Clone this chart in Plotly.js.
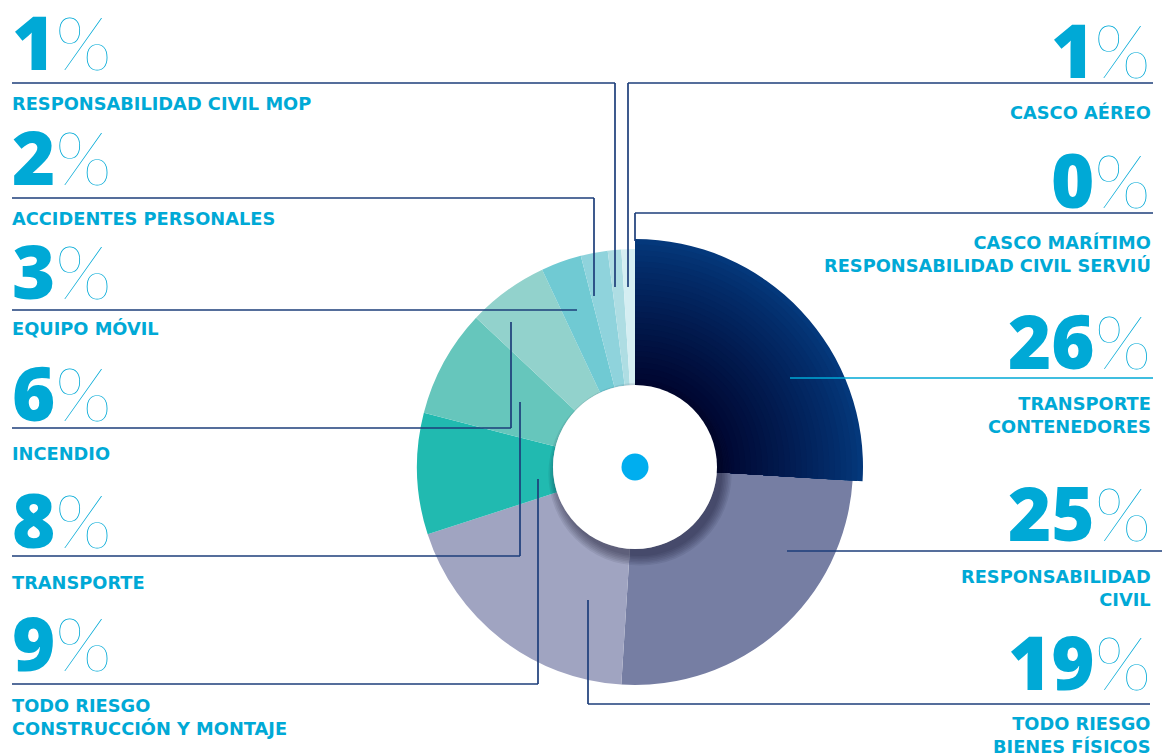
<!DOCTYPE html>
<html>
<head>
<meta charset="utf-8">
<script src="https://cdn.plot.ly/plotly-3.0.1.min.js"></script>
<style>
html,body{margin:0;padding:0;background:#fff;}
#chart{width:1162px;height:756px;}
</style>
</head>
<body>
<div id="chart"></div>
<script>
// ---------- DATA ----------
const categories = [
  'TRANSPORTE<br>CONTENEDORES',
  'RESPONSABILIDAD<br>CIVIL',
  'TODO RIESGO<br>BIENES FÍSICOS',
  'TODO RIESGO<br>CONSTRUCCIÓN Y MONTAJE',
  'TRANSPORTE',
  'INCENDIO',
  'EQUIPO MÓVIL',
  'ACCIDENTES PERSONALES',
  'RESPONSABILIDAD CIVIL MOP',
  'CASCO AÉREO',
  'CASCO MARÍTIMO<br>RESPONSABILIDAD CIVIL SERVIÚ'
];
const shares = [26, 25, 19, 9, 8, 6, 3, 2, 1, 1, 0];

// ---------- STYLE ----------
const sliceColors = ['#022763', '#767EA3', '#A0A4C1', '#21BAB0', '#66C6BC', '#92D2CC',
                     '#70CAD3', '#8FD3DC', '#AEDDE3', '#D5EEF2', '#E9F6F8'];
const TEXT = '#00A9D6';
const NAVY = '#1D3E7A';
const W = 1162, H = 756;
const CX = 635, CY = 467, R = 218, R0 = 228, RH = 82;
const fx = x => x / W;
const fy = y => 1 - y / H;
function domainFor(r) {
  return {x: [fx(CX - r), fx(CX + r)], y: [fy(CY + r), fy(CY - r)]};
}

// label layout: side, number centre y, label centre y, leader path (px), leader colour
const labelLayout = [
  {side: 'r', ny: 340, ly: 415, path: [[790,378],[1153,378]], lc: TEXT},
  {side: 'r', ny: 512, ly: 588, path: [[787,551],[1162,551]], lc: NAVY},
  {side: 'r', ny: 661, ly: 735, path: [[588,600],[588,704],[1150,704]], lc: NAVY},
  {side: 'l', ny: 642, ly: 717, path: [[538,479],[538,684],[12,684]], lc: NAVY},
  {side: 'l', ny: 519, ly: 582, path: [[520,402],[520,556],[12,556]], lc: NAVY},
  {side: 'l', ny: 392, ly: 453, path: [[511,322],[511,428],[12,428]], lc: NAVY},
  {side: 'l', ny: 270, ly: 329, path: [[577,310],[12,310]], lc: NAVY},
  {side: 'l', ny: 156, ly: 218, path: [[594,296],[594,198],[12,198]], lc: NAVY},
  {side: 'l', ny: 41,  ly: 103, path: [[615,287],[615,83],[12,83]], lc: NAVY},
  {side: 'r', ny: 49,  ly: 112, path: [[628,287],[628,83],[1153,83]], lc: NAVY},
  {side: 'r', ny: 179, ly: 254, path: [[635,241],[635,213],[1153,213]], lc: NAVY}
];

// ---------- TRACES ----------
const traces = [];
// base donut
traces.push({
  type: 'pie', values: shares, labels: categories, sort: false, direction: 'clockwise',
  rotation: 0, hole: RH / R, domain: domainFor(R), textinfo: 'none', hoverinfo: 'label+percent',
  marker: {colors: sliceColors, line: {width: 0}}, showlegend: false
});
// larger first slice with radial shading (layers)
const outerC = [4, 56, 123], innerC = [0, 6, 48];
const NL = 26;
for (let k = 0; k < NL; k++) {
  const t = k / (NL - 1);
  const r = R0 - (R0 - RH - 6) * t;
  const c = outerC.map((v, i) => Math.round(v + (innerC[i] - v) * Math.pow(t, 0.85)));
  const cols = shares.map((_, i) => i === 0 ? `rgb(${c[0]},${c[1]},${c[2]})` : 'rgba(0,0,0,0)');
  traces.push({
    type: 'pie', values: shares, labels: categories, sort: false, direction: 'clockwise',
    rotation: 0, hole: RH / r, domain: domainFor(r), textinfo: 'none', hoverinfo: 'skip',
    marker: {colors: cols, line: {width: 0}}, showlegend: false
  });
}

// ---------- SHAPES ----------
const shapes = [];
function circle(cx, cy, r, fill) {
  shapes.push({type: 'circle', xref: 'paper', yref: 'paper', layer: 'above',
    x0: fx(cx - r), x1: fx(cx + r), y0: fy(cy + r), y1: fy(cy - r),
    fillcolor: fill, line: {width: 0}});
}
for (let k = 6; k >= 0; k--) circle(CX + 5, CY + 7, RH + k * 1.6, 'rgba(10,10,40,0.08)');
circle(CX, CY, RH, '#ffffff');
circle(CX, CY, 13.5, '#00AEEF');

labelLayout.forEach(L => {
  for (let i = 0; i < L.path.length - 1; i++) {
    const [a, b] = [L.path[i], L.path[i + 1]];
    shapes.push({type: 'line', xref: 'paper', yref: 'paper', layer: 'above',
      x0: fx(a[0]), y0: fy(a[1]), x1: fx(b[0]), y1: fy(b[1]),
      line: {color: L.lc, width: 1.7}});
  }
});

// ---------- ANNOTATIONS ----------
const annotations = [];
categories.forEach((cat, i) => {
  const L = labelLayout[i];
  const right = L.side === 'r';
  const xx = right ? fx(1153) : fx(10);
  annotations.push({
    xref: 'paper', yref: 'paper', x: xx, y: fy(L.ny), xanchor: right ? 'right' : 'left', yanchor: 'middle',
    height: 76, valign: 'middle', showarrow: false,
    text: `${shares[i]}<span style="font-family:Lato;font-weight:100">%</span>`,
    font: {family: 'Open Sans', size: 74, weight: 800, color: TEXT}
  });
  annotations.push({
    xref: 'paper', yref: 'paper', x: xx, y: fy(L.ly), xanchor: right ? 'right' : 'left', yanchor: 'middle',
    align: right ? 'right' : 'left', showarrow: false, text: cat,
    font: {family: 'DejaVu Sans', size: 17.8, weight: 700, color: TEXT}
  });
});

const layout = {
  width: W, height: H, margin: {l: 0, r: 0, t: 0, b: 0},
  paper_bgcolor: '#ffffff', plot_bgcolor: '#ffffff', showlegend: false,
  shapes: shapes, annotations: annotations
};
Plotly.newPlot('chart', traces, layout, {displayModeBar: false, staticPlot: true});
</script>
</body>
</html>
